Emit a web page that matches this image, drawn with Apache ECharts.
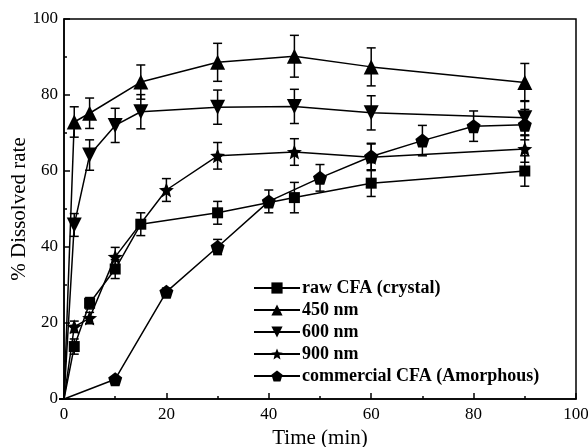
<!DOCTYPE html>
<html>
<head>
    <meta charset="utf-8">
    <title>Dissolved rate</title>
    <script type="text/javascript" src="https://cdn.jsdelivr.net/npm/echarts@6/dist/echarts.min.js"></script>
</head>
<body style="margin:0">
    <div id="main" style="width:588px;height:447px"></div>
    <script>
    // time points (min)
    var tA = [0, 2, 5, 10, 15, 30, 45, 60, 90];
    var tHigh = [0, 2, 5, 15, 30, 45, 60, 90];
    var tStar = [0, 2, 5, 10, 20, 30, 45, 60, 90];
    var tComm = [0, 10, 20, 30, 40, 50, 60, 70, 80, 90];

    // values (%)
    var rawCFA = [0, 13.8, 25.2, 34.2, 46, 49, 53, 56.8, 60];
    var rawErr = [0, 2, 1.5, 2.5, 3, 3, 4, 3.5, 4];
    var nm450 = [0, 72.9, 75.2, 83.4, 88.6, 90.2, 87.4, 83.3];
    var nm450Err = [0, 4, 4, 4.5, 5, 5.5, 5, 5];
    var nm600 = [0, 45.8, 64.2, 72, 75.6, 76.8, 77, 75.3, 74];
    var nm600Err = [0, 3, 4, 4.5, 4.5, 4.5, 4.5, 4.5, 4.5];
    var nm900 = [0, 19, 21.3, 37.4, 55, 64, 65, 63.6, 65.8];
    var nm900Err = [0, 1.5, 1.5, 2.5, 3, 3.5, 3.5, 3.5, 3.5];
    var comm = [0, 5.2, 28.2, 40, 52, 58.2, 63.8, 68, 71.8, 72.2];
    var commErr = [0, 0.5, 1, 2, 3, 3.5, 3.5, 4, 4, 4];

    var names = ['raw CFA (crystal)', '450 nm', '600 nm', '900 nm', 'commercial CFA (Amorphous)'];
    var starPath = 'path://M50 0 L63 32 L98 34.5 L71 56 L80 91 L50 72 L20 91 L29 56 L2 34.5 L37 32 Z';
    var pentPath = 'path://M50 0 L97.6 34.5 L79.4 90.5 L20.6 90.5 L2.4 34.5 Z';

    function pairs(xs, ys) {
        // origin point drawn without marker
        return xs.map(function (x, i) {
            return x === 0 ? { value: [x, ys[i]], symbol: 'none' } : [x, ys[i]];
        });
    }
    function errData(xs, ys, es) {
        return xs.map(function (x, i) { return [x, ys[i] - es[i], ys[i] + es[i]]; });
    }
    function lineSeries(name, xs, ys, symbol, size, rotate) {
        return {
            name: name,
            type: 'line',
            data: pairs(xs, ys),
            symbol: symbol,
            symbolSize: size,
            symbolRotate: rotate || 0,
            showAllSymbol: true,
            z: 3,
            lineStyle: { color: '#000', width: 1.5 },
            itemStyle: { color: '#000' }
        };
    }
    function errSeries(xs, ys, es) {
        return {
            type: 'custom',
            z: 2,
            silent: true,
            data: errData(xs, ys, es),
            renderItem: function (params, api) {
                var lo = api.coord([api.value(0), api.value(1)]);
                var hi = api.coord([api.value(0), api.value(2)]);
                var w = 4.5;
                var st = { stroke: '#000', lineWidth: 1.5 };
                return {
                    type: 'group',
                    children: [
                        { type: 'line', shape: { x1: lo[0], y1: lo[1], x2: hi[0], y2: hi[1] }, style: st },
                        { type: 'line', shape: { x1: lo[0] - w, y1: lo[1], x2: lo[0] + w, y2: lo[1] }, style: st },
                        { type: 'line', shape: { x1: hi[0] - w, y1: hi[1], x2: hi[0] + w, y2: hi[1] }, style: st }
                    ]
                };
            }
        };
    }

    var font = 'Liberation Serif';
    var option = {
        animation: false,
        backgroundColor: '#fff',
        grid: {
            left: 64, right: 12, top: 19, bottom: 48,
            outerBoundsMode: 'none',
            show: true, borderColor: '#000', borderWidth: 1.5
        },
        legend: {
            orient: 'vertical',
            left: 248,
            top: 274,
            data: names,
            itemWidth: 46,
            itemHeight: 14,
            itemGap: 4,
            textStyle: { fontFamily: font, fontWeight: 'bold', fontSize: 18, color: '#000', lineHeight: 18, padding: [0, 0, 0, -3] }
        },
        xAxis: {
            type: 'value',
            min: 0, max: 100, interval: 20,
            name: 'Time (min)',
            nameLocation: 'middle',
            nameGap: 29,
            nameMoveOverlap: false,
            nameTextStyle: { fontFamily: font, fontSize: 21, color: '#000' },
            axisLine: { lineStyle: { color: '#000', width: 1.5 } },
            axisTick: { inside: true, length: 6, lineStyle: { color: '#000', width: 1.5 } },
            minorTick: { show: true, splitNumber: 2, length: 3, lineStyle: { color: '#000', width: 1.5 } },
            axisLabel: { fontFamily: font, fontSize: 17, color: '#000', margin: 7 },
            splitLine: { show: false }
        },
        yAxis: {
            type: 'value',
            min: 0, max: 100, interval: 20,
            name: '% Dissolved rate',
            nameLocation: 'middle',
            nameGap: 34,
            nameMoveOverlap: false,
            nameTextStyle: { fontFamily: font, fontSize: 21, color: '#000' },
            axisLine: { lineStyle: { color: '#000', width: 1.5 } },
            axisTick: { inside: true, length: 6, lineStyle: { color: '#000', width: 1.5 } },
            minorTick: { show: true, splitNumber: 2, length: 3, lineStyle: { color: '#000', width: 1.5 } },
            axisLabel: { fontFamily: font, fontSize: 17, color: '#000', margin: 6 },
            splitLine: { show: false }
        },
        series: [
            lineSeries(names[0], tA, rawCFA, 'rect', 11),
            lineSeries(names[1], tHigh, nm450, 'triangle', 15),
            lineSeries(names[2], tA, nm600, 'triangle', 15, 180),
            lineSeries(names[3], tStar, nm900, starPath, 15),
            lineSeries(names[4], tComm, comm, pentPath, 14),
            errSeries(tA, rawCFA, rawErr),
            errSeries(tHigh, nm450, nm450Err),
            errSeries(tA, nm600, nm600Err),
            errSeries(tStar, nm900, nm900Err),
            errSeries(tComm, comm, commErr)
        ]
    };

    var myChart = echarts.init(document.getElementById('main'));
    myChart.setOption(option);
    </script>
</body>
</html>
